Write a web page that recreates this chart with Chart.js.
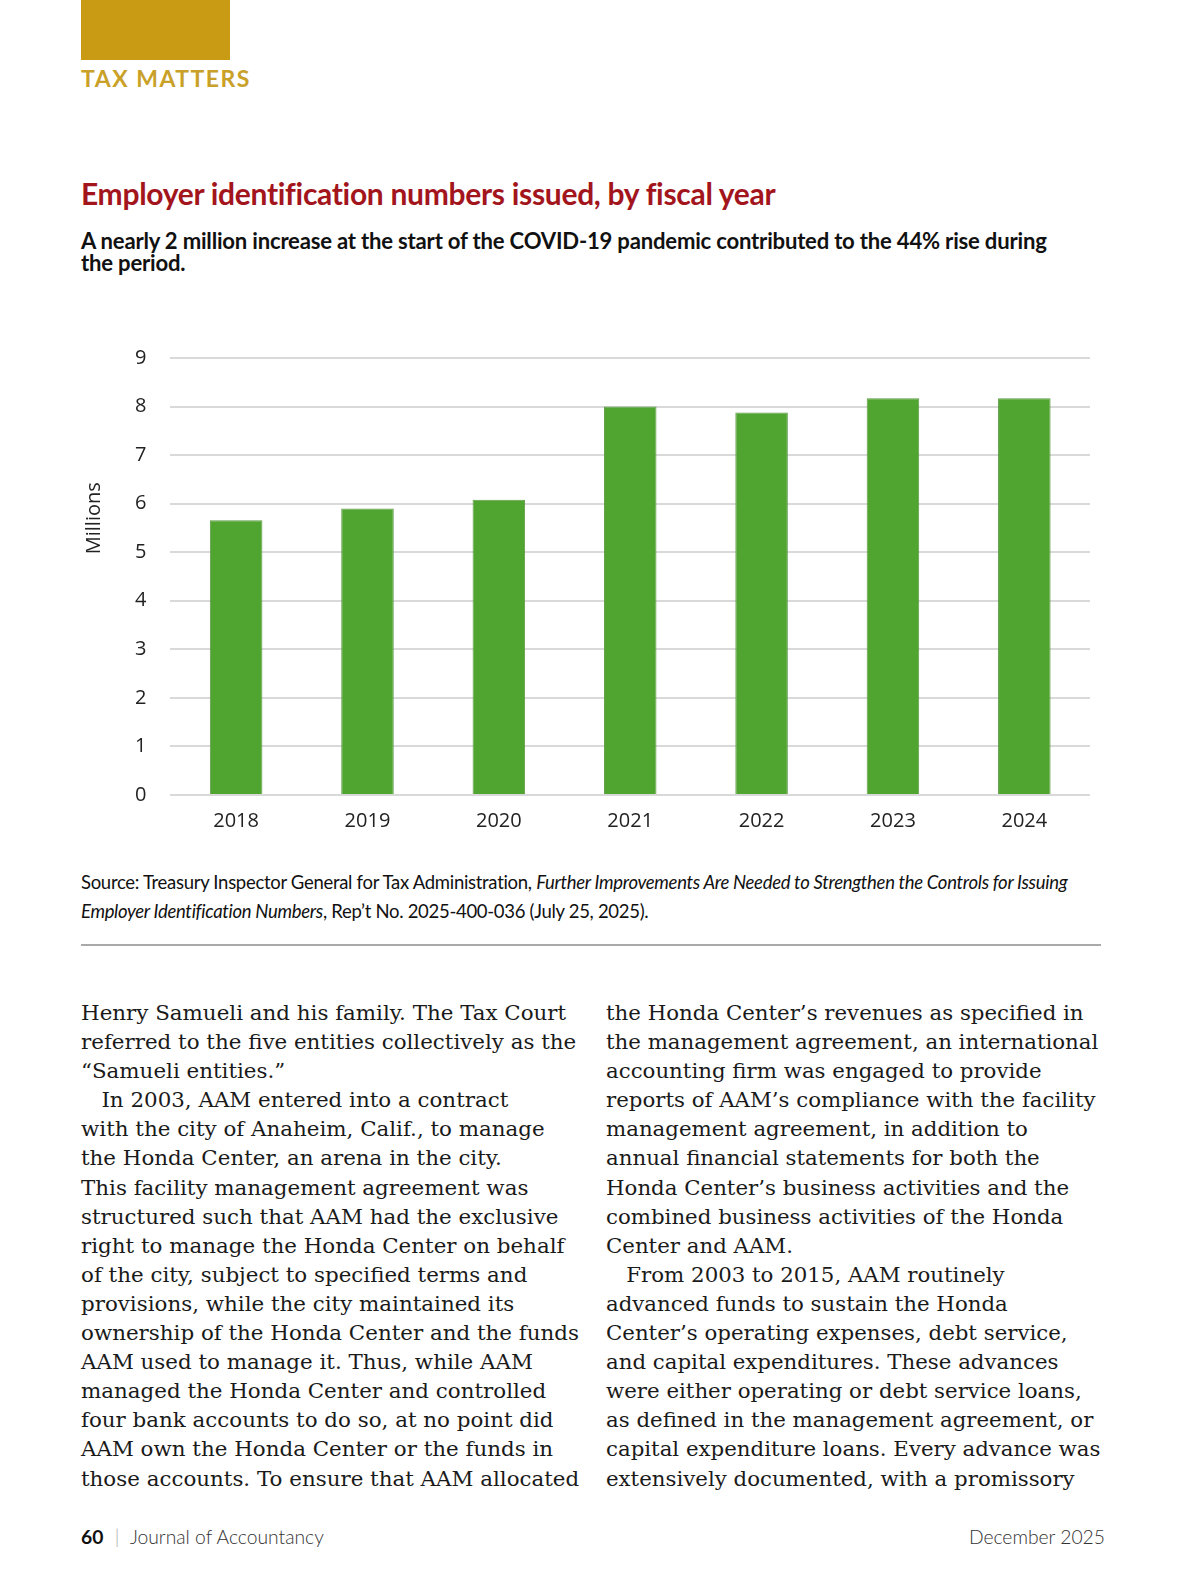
<!DOCTYPE html>
<html>
<head>
<meta charset="utf-8">
<script src="https://cdn.jsdelivr.net/npm/chart.js@4/dist/chart.umd.min.js"></script>
<style>
  html, body { margin:0; padding:0; background:#fff; }
  body { width:1200px; height:1575px; position:relative; overflow:hidden; font-family:"Lato", "Open Sans", sans-serif; }
  .gold-box { position:absolute; left:81px; top:0; width:149px; height:60px; background:#c99a14; }
  .kicker { position:absolute; left:81px; top:64px; font-size:23px; font-weight:700; color:#c9a128; letter-spacing:1.5px; }
  .title { position:absolute; left:81px; top:175px; font-size:30px; font-weight:700; color:#a3151c; letter-spacing:-0.3px; }
  .subtitle { position:absolute; left:81px; top:230px; width:1080px; font-size:22.1px; font-weight:700; color:#111; line-height:22px; letter-spacing:-0.2px; }
  #chartBox { position:absolute; left:70px; top:322px; width:1030px; height:517px; }
  .source { position:absolute; left:81px; top:868px; width:1060px; font-size:18.5px; color:#111; line-height:29px; letter-spacing:-0.3px; }
  .rule { position:absolute; left:81px; top:944px; width:1020px; height:2px; background:#a9a9a9; }
  .col { position:absolute; top:999px; font-family:"DejaVu Serif", serif; font-size:21px; line-height:29.1px; color:#1a1a1a; white-space:pre; }
  .footer { position:absolute; top:1525px; font-size:19.3px; color:#333; font-weight:300; }
</style>
</head>
<body>
<div class="gold-box"></div>
<div class="kicker">TAX MATTERS</div>
<div class="title">Employer identification numbers issued, by fiscal year</div>
<div class="subtitle">A nearly 2 million increase at the start of the COVID-19 pandemic contributed to the 44% rise during<br>the period.</div>
<div id="chartBox"><canvas id="myChart"></canvas></div>
<div class="source">Source: Treasury Inspector General for Tax Administration, <i>Further Improvements Are Needed to Strengthen the Controls for Issuing<br>Employer Identification Numbers</i>, Rep’t No. 2025-400-036 (July 25, 2025).</div>
<div class="rule"></div>
<div class="col" id="colL" style="left:81px;">Henry Samueli and his family. The Tax Court
referred to the five entities collectively as the
“Samueli entities.”
   In 2003, AAM entered into a contract
with the city of Anaheim, Calif., to manage
the Honda Center, an arena in the city.
This facility management agreement was
structured such that AAM had the exclusive
right to manage the Honda Center on behalf
of the city, subject to specified terms and
provisions, while the city maintained its
ownership of the Honda Center and the funds
AAM used to manage it. Thus, while AAM
managed the Honda Center and controlled
four bank accounts to do so, at no point did
AAM own the Honda Center or the funds in
those accounts. To ensure that AAM allocated</div>
<div class="col" id="colR" style="left:606px;">the Honda Center’s revenues as specified in
the management agreement, an international
accounting firm was engaged to provide
reports of AAM’s compliance with the facility
management agreement, in addition to
annual financial statements for both the
Honda Center’s business activities and the
combined business activities of the Honda
Center and AAM.
   From 2003 to 2015, AAM routinely
advanced funds to sustain the Honda
Center’s operating expenses, debt service,
and capital expenditures. These advances
were either operating or debt service loans,
as defined in the management agreement, or
capital expenditure loans. Every advance was
extensively documented, with a promissory</div>
<div class="footer" style="left:81px;"><b style="font-weight:700;color:#111;">60</b> <span style="color:#aaa;margin:0 6px;">|</span> Journal of Accountancy</div>
<div class="footer" style="right:95px;">December 2025</div>

<script>
var years = ['2018', '2019', '2020', '2021', '2022', '2023', '2024'];
var einsIssued = [5.66, 5.90, 6.08, 8.00, 7.88, 8.17, 8.17];
var yTicks = [0, 1, 2, 3, 4, 5, 6, 7, 8, 9];
var yTitle = 'Millions';

// squeeze each text column so its longest line fits the column width
function fitCol(id, width){
  var el = document.getElementById(id);
  el.style.transformOrigin = 'left top';
  var w = el.scrollWidth;
  if (w > 0) el.style.transform = 'scaleX(' + (width / w) + ')';
}
fitCol('colL', 498);
fitCol('colR', 494);

// axis title sits a bit above the middle of the axis in the original, so draw it by hand
var axisTitle = {
  id: 'axisTitle',
  afterDraw: function(chart){
    var c = chart.ctx, y = chart.scales.y;
    c.save();
    c.translate(24, y.getPixelForValue(5.7));
    c.rotate(-Math.PI / 2);
    c.font = '20px "Open Sans"';
    c.fillStyle = '#222';
    c.textAlign = 'center';
    c.textBaseline = 'middle';
    c.fillText(yTitle, 0, 0);
    c.restore();
  }
};

function draw(){
var ctx = document.getElementById('myChart').getContext('2d');
var myChart = new Chart(ctx, {
    type: 'bar',
    data: {
        labels: years,
        datasets: [{
            label: 'EINs issued (millions)',
            data: einsIssued,
            backgroundColor: '#4fa52f',
            borderColor: '#5f9a45',
            borderWidth: 1,
            barPercentage: 0.4,
            categoryPercentage: 1.0
        }]
    },
    plugins: [axisTitle],
    options: {
        responsive: true,
        maintainAspectRatio: false,
        animation: false,
        devicePixelRatio: 1,
        layout: { padding: { left: 41, right: 10, top: 5, bottom: 0 } },
        plugins: {
            legend: { display: false },
            tooltip: { enabled: false }
        },
        scales: {
            x: {
                grid: { display: false },
                border: { display: false },
                ticks: { color: '#222', font: { family: 'Open Sans', size: 20 }, padding: 6 }
            },
            y: {
                min: 0,
                max: 9,
                afterBuildTicks: function(axis){ axis.ticks = yTicks.map(function(v){ return { value: v }; }); },
                grid: { color: '#d9d9d9', lineWidth: 2, drawTicks: false },
                border: { display: false },
                ticks: { color: '#222', font: { family: 'Open Sans', size: 20 }, padding: 24 }
            }
        }
    }
});
}
draw();
</script>
</body>
</html>
